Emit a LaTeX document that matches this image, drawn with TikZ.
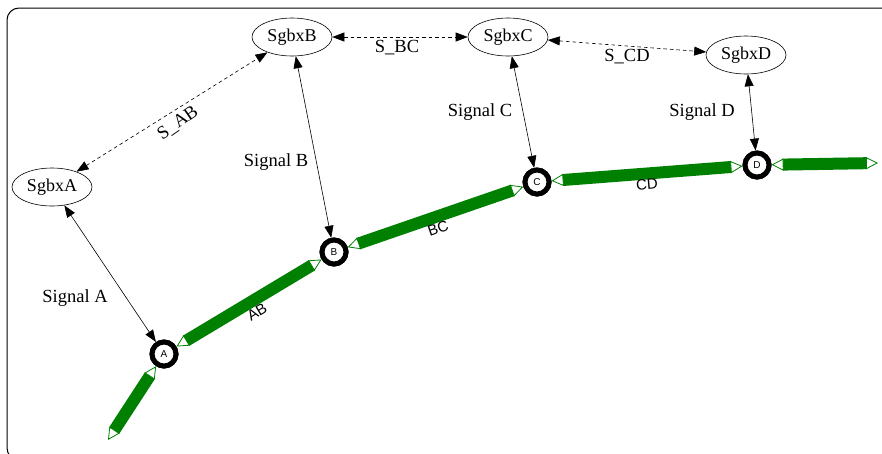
\documentclass[tikz,border=0pt]{standalone}
\usepackage{fontspec}
\setmainfont{Liberation Serif}
\newfontfamily\labelsans{Liberation Sans}
\usetikzlibrary{shapes.geometric,arrows.meta}
\definecolor{trackgreen}{RGB}{0,128,0}
\tikzset{
  box/.style={ellipse,draw,line width=0.6pt,minimum width=80pt,minimum height=38pt,
    inner sep=0pt,font=\fontsize{18}{20}\selectfont},
  ring/.style={circle,draw,fill=white,line width=5pt,minimum size=24pt,inner sep=0pt,
    font=\labelsans\fontsize{10}{11}\selectfont},
  sig/.style={line width=0.6pt,{Triangle[length=12pt,width=9pt]}-{Triangle[length=12pt,width=9pt]}},
  link/.style={sig,dash pattern=on 3.5pt off 3pt},
  track/.style={trackgreen,line width=12pt,shorten <=11pt,shorten >=11pt},
  trackends/.style={trackgreen,line width=0.8pt,
    {Triangle[length=12pt,width=12pt,fill=white]}-{Triangle[length=12pt,width=12pt,fill=white]}},
  lbl/.style={font=\fontsize{18.5}{20}\selectfont,inner sep=1pt},
  seglbl/.style={font=\labelsans\fontsize{15}{17}\selectfont,inner sep=1pt}
}
\begin{document}
\begin{tikzpicture}[x=1pt,y=-1pt]
\clip (0,0) rectangle (882,453);
\fill[white] (0,0) rectangle (882,453);
% frame
\draw[line width=1pt,rounded corners=12pt] (30,460) -- (7,460) -- (7,8) -- (890,8);

% signal boxes
\node[box] (sA) at (52,187) {SgbxA};
\node[box] (sB) at (292,37) {SgbxB};
\node[box] (sC) at (508,37) {SgbxC};
\node[box] (sD) at (746,55) {SgbxD};

% track rings
\node[ring] (rA) at (164,354) {A};
\node[ring] (rB) at (334,252) {B};
\node[ring] (rC) at (537,182) {C};
\node[ring] (rD) at (757,165) {D};
\coordinate (tA) at (108,440);
\coordinate (tD) at (878,163);

% track segments, with open heads at both ends
\foreach \p/\q in {tA/rA,rA/rB,rB/rC,rC/rD,rD/tD}{
  \draw[track] (\p) -- (\q);
  \draw[trackends] (\p) -- (\q);
}
% rings stay on top of the track
\node[ring] at (rA) {A};
\node[ring] at (rB) {B};
\node[ring] at (rC) {C};
\node[ring] at (rD) {D};

% segment names
\node[seglbl,rotate=31] (lAB) at (257,312) {AB};
\node[seglbl,rotate=19] (lBC) at (438,228) {BC};
\node[seglbl,rotate=5] (lCD) at (647,184) {CD};

% signal links
\draw[sig] (sA) -- (rA);
\draw[sig] (sB) -- (rB);
\draw[sig] (sC) -- (rC);
\draw[sig] (sD) -- (rD);
\node[lbl] (nA) at (75,298) {Signal A};
\node[lbl] (nB) at (276,162) {Signal B};
\node[lbl] (nC) at (480,112) {Signal C};
\node[lbl] (nD) at (702,112) {Signal D};

% box-to-box links
\draw[link] (sA) -- (sB);
\draw[link] (sB) -- (sC);
\draw[link] (sC) -- (sD);
\node[lbl,rotate=35] (nAB) at (178,123) {S\_AB};
\node[lbl] (nBC) at (397,48) {S\_BC};
\node[lbl] (nCD) at (627,57) {S\_CD};
\end{tikzpicture}
\end{document}
